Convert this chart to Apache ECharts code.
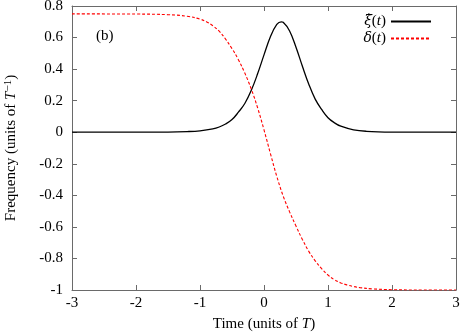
<!DOCTYPE html>
<html>
<head>
<meta charset="utf-8">
<script src="https://cdn.jsdelivr.net/npm/echarts@6/dist/echarts.min.js"></script>
<style>
  html, body { margin: 0; padding: 0; background: #fff; }
  #chart { width: 461px; height: 333px; }
</style>
</head>
<body>
<div id="chart"></div>
<script>
// values
var xiT   = [-3, -2, -1.5, -1.2, -1.0, -0.8, -0.7, -0.6, -0.5, -0.4, -0.3, -0.2, -0.1, 0, 0.1, 0.2, 0.27, 0.3, 0.4, 0.5, 0.6, 0.7, 0.8, 0.9, 1.0, 1.1, 1.2, 1.4, 1.6, 2.0, 2.5, 3];
var xiVal = [0, 0.0005, 0.001, 0.004, 0.009, 0.021, 0.033, 0.052, 0.08, 0.127, 0.182, 0.264, 0.37, 0.49, 0.605, 0.683, 0.70, 0.697, 0.642, 0.539, 0.418, 0.304, 0.21, 0.145, 0.092, 0.06, 0.038, 0.015, 0.006, 0.001, 0, 0];

var deltaT   = [-3, -2, -1.5, -1.2, -1.0, -0.9, -0.8, -0.7, -0.6, -0.5, -0.4, -0.3, -0.2, -0.1, 0, 0.1, 0.2, 0.3, 0.4, 0.5, 0.6, 0.7, 0.8, 0.9, 1.0, 1.1, 1.2, 1.3, 1.4, 1.5, 1.7, 2.0, 2.5, 3];
var deltaVal = [0.75, 0.749, 0.745, 0.735, 0.717, 0.70, 0.675, 0.64, 0.59, 0.53, 0.46, 0.375, 0.275, 0.155, 0.015, -0.135, -0.28, -0.405, -0.505, -0.595, -0.68, -0.755, -0.815, -0.865, -0.905, -0.935, -0.955, -0.968, -0.978, -0.985, -0.993, -0.998, -1, -1];

var serif = 'Liberation Serif';
var fs = 15;

function pairs(xs, ys) {
    return xs.map(function (x, i) { return [x, ys[i]]; });
}

var myChart = echarts.init(document.getElementById('chart'));

var borderLine = { show: true, onZero: false, lineStyle: { color: '#6a6a6a', width: 1 } };
var tick = { show: true, inside: true, length: 5, lineStyle: { color: '#6a6a6a' } };
var italic = { fontFamily: serif, fontSize: fs, fontStyle: 'italic' };

option = {
    animation: false,
    backgroundColor: '#fff',
    grid: { left: 72, right: 5, top: 6, bottom: 43, containLabel: false, outerBoundsMode: 'none' },
    title: {
        text: '(b)',
        left: 91, top: 24,
        textStyle: { fontFamily: serif, fontSize: fs, fontWeight: 'normal', color: '#000' }
    },
    legend: {
        orient: 'vertical',
        right: 24, top: 9,
        align: 'right',
        itemWidth: 40, itemHeight: 14, itemGap: 2,
        itemStyle: { opacity: 0 },
        data: ['xi', 'delta'],
        formatter: function (name) {
            return name === 'xi' ? '{g|ξ̇}({i|t})' : '{g|δ}({i|t})';
        },
        textStyle: {
            fontFamily: serif, fontSize: fs, color: '#000',
            rich: {
                g: { fontFamily: 'DejaVu Serif', fontSize: 14, fontStyle: 'italic' },
                i: italic
            }
        }
    },
    xAxis: [{
        type: 'value', min: -3, max: 3, interval: 1,
        name: 'Time (units of {i|T})',
        nameLocation: 'middle', nameGap: 27,
        nameTextStyle: {
            fontFamily: serif, fontSize: fs, color: '#000',
            rich: { i: italic }
        },
        axisLine: borderLine, axisTick: tick,
        axisLabel: { fontFamily: serif, fontSize: fs, color: '#000', margin: 6 },
        splitLine: { show: false }
    }, {
        type: 'value', min: -3, max: 3, interval: 1, position: 'top',
        axisLine: borderLine, axisTick: tick,
        axisLabel: { show: false }, splitLine: { show: false }
    }],
    yAxis: [{
        type: 'value', min: -1, max: 0.8, interval: 0.2,
        name: 'Frequency (units of {i|T}{s|−1})',
        nameLocation: 'middle', nameGap: 52,
        nameTextStyle: {
            fontFamily: serif, fontSize: fs, color: '#000',
            rich: {
                i: italic,
                s: { fontFamily: serif, fontSize: 11, verticalAlign: 'top', padding: [0, 0, 6, 0] }
            }
        },
        axisLine: borderLine, axisTick: tick,
        axisLabel: {
            fontFamily: serif, fontSize: fs, color: '#000', margin: 9,
            formatter: function (v) { return String(Math.round(v * 10) / 10); }
        },
        splitLine: { show: false }
    }, {
        type: 'value', min: -1, max: 0.8, interval: 0.2, position: 'right',
        axisLine: borderLine, axisTick: tick,
        axisLabel: { show: false }, splitLine: { show: false }
    }],
    series: [{
        name: 'xi',
        type: 'line',
        data: pairs(xiT, xiVal),
        smooth: 0.4,
        symbol: 'none',
        lineStyle: { color: '#000', width: 1.3 },
        itemStyle: { color: '#000' }
    }, {
        name: 'delta',
        type: 'line',
        data: pairs(deltaT, deltaVal),
        smooth: 0.4,
        symbol: 'none',
        lineStyle: { color: '#ff0000', width: 1.1, type: [3, 2] },
        itemStyle: { color: '#ff0000' }
    }]
};

myChart.setOption(option);
</script>
</body>
</html>
